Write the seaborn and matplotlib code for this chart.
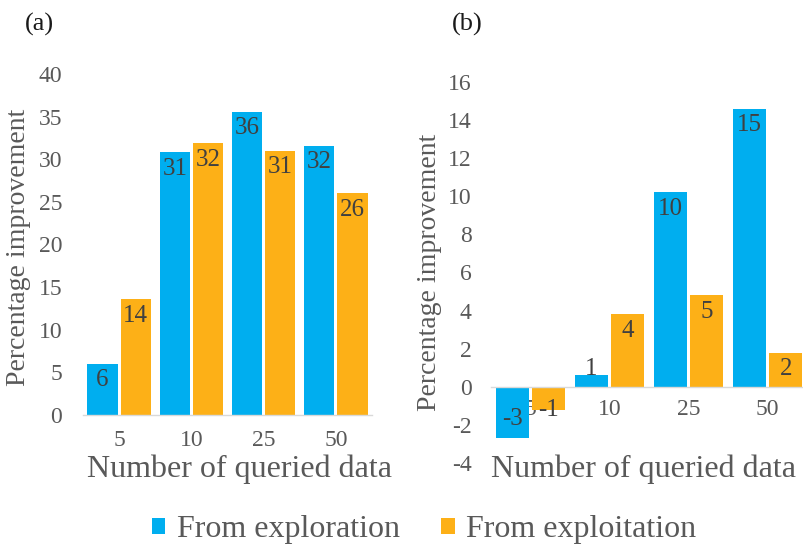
import pandas as pd
import numpy as np
import matplotlib
matplotlib.use('Agg')
import matplotlib.pyplot as plt
import seaborn as sns
from matplotlib.patches import Patch

# Values
queried = ['5', '10', '25', '50']
series = ['From exploration', 'From exploitation']
exploration_a = [6.0, 30.8, 35.6, 31.6]
exploitation_a = [13.6, 31.9, 31.0, 26.0]
exploration_b = [-2.7, 0.6, 10.2, 14.6]
exploitation_b = [-1.2, 3.8, 4.8, 1.8]

blue = '#00AEEF'
orange = '#FDB017'
grey = '#595959'
label_grey = '#404040'

sns.set_style('white')
plt.rcParams['font.family'] = ['Liberation Serif', 'DejaVu Serif']
plt.rcParams['axes.unicode_minus'] = False


def make_df(expl, expt):
    return pd.DataFrame({
        'queried': queried * 2,
        'value': expl + expt,
        'source': [series[0]] * len(queried) + [series[1]] * len(queried),
    })


fig = plt.figure(figsize=(8.04, 5.47), dpi=100)
ax_a = fig.add_axes([83 / 804, 1 - 415 / 547, 289 / 804, 341 / 547])
ax_b = fig.add_axes([491 / 804, 1 - 463 / 547, 316 / 804, 381 / 547])


def draw(ax, df, ylim, yticks):
    sns.barplot(data=df, x='queried', y='value', hue='source', order=queried,
                hue_order=series, palette=[blue, orange], saturation=1,
                width=0.92, gap=0.09, linewidth=0, errorbar=None,
                legend=False, ax=ax)
    ax.set_ylim(*ylim)
    ax.set_yticks(yticks)
    ax.set_xlim(-0.5, 3.5)
    for s in ['top', 'right', 'left']:
        ax.spines[s].set_visible(False)
    ax.spines['bottom'].set_color('#D9D9D9')
    ax.spines['bottom'].set_linewidth(1.0)
    ax.tick_params(axis='both', length=0, labelsize=17, labelcolor=grey)
    ax.set_xlabel('Number of queried data', fontsize=23, color=grey)
    ax.set_ylabel('Percentage improvement', fontsize=20, color=grey)
    # data labels
    for cont in ax.containers:
        for bar in cont:
            h = bar.get_height()
            x = bar.get_x() + bar.get_width() / 2
            px = abs(ax.transData.transform((0, h))[1] - ax.transData.transform((0, 0))[1])
            if h >= 0:
                if px > 30:
                    ax.annotate(f'{h:.0f}', (x, h), xytext=(0, -4), textcoords='offset points',
                                ha='center', va='top', fontsize=18, color=label_grey)
                else:
                    ax.annotate(f'{h:.0f}', (x, h), xytext=(0, -3), textcoords='offset points',
                                ha='center', va='bottom', fontsize=18, color=label_grey)
            else:
                if px > 30:
                    ax.annotate(f'{h:.0f}', (x, h), xytext=(0, 6), textcoords='offset points',
                                ha='center', va='bottom', fontsize=18, color=label_grey)
                else:
                    ax.annotate(f'{h:.0f}', (x, h), xytext=(0, 0), textcoords='offset points',
                                ha='center', va='center', fontsize=18, color=label_grey)


draw(ax_a, make_df(exploration_a, exploitation_a), (0, 40), np.arange(0, 41, 5))
ax_a.tick_params(axis='y', pad=15)
ax_a.tick_params(axis='x', pad=11)
ax_a.xaxis.set_label_coords(0.54, -0.117)
ax_a.yaxis.set_label_coords(-0.18, 0.493)

draw(ax_b, make_df(exploration_b, exploitation_b), (-4, 16), np.arange(-4, 17, 2))
ax_b.spines['bottom'].set_position(('data', 0))
ax_b.tick_params(axis='y', pad=14)
ax_b.tick_params(axis='x', pad=9)
ax_b.xaxis.set_label_coords(0.483, 0.021)
ax_b.yaxis.set_label_coords(-0.155, 0.5)

fig.text(25 / 804, 1 - 24 / 547, '(a)', fontsize=19, color='#1a1a1a', va='center')
fig.text(452 / 804, 1 - 24 / 547, '(b)', fontsize=19, color='#1a1a1a', va='center')

handles = [Patch(facecolor=blue, edgecolor='none'), Patch(facecolor=orange, edgecolor='none')]
fig.legend(handles, series, loc='center', bbox_to_anchor=(424 / 804, 1 - 530 / 547),
           ncol=2, frameon=False, fontsize=23, handlelength=0.42, handleheight=0.42,
           handletextpad=0.35, columnspacing=1.3, labelcolor=grey, borderpad=0)

fig.savefig('out.png', dpi=100)
